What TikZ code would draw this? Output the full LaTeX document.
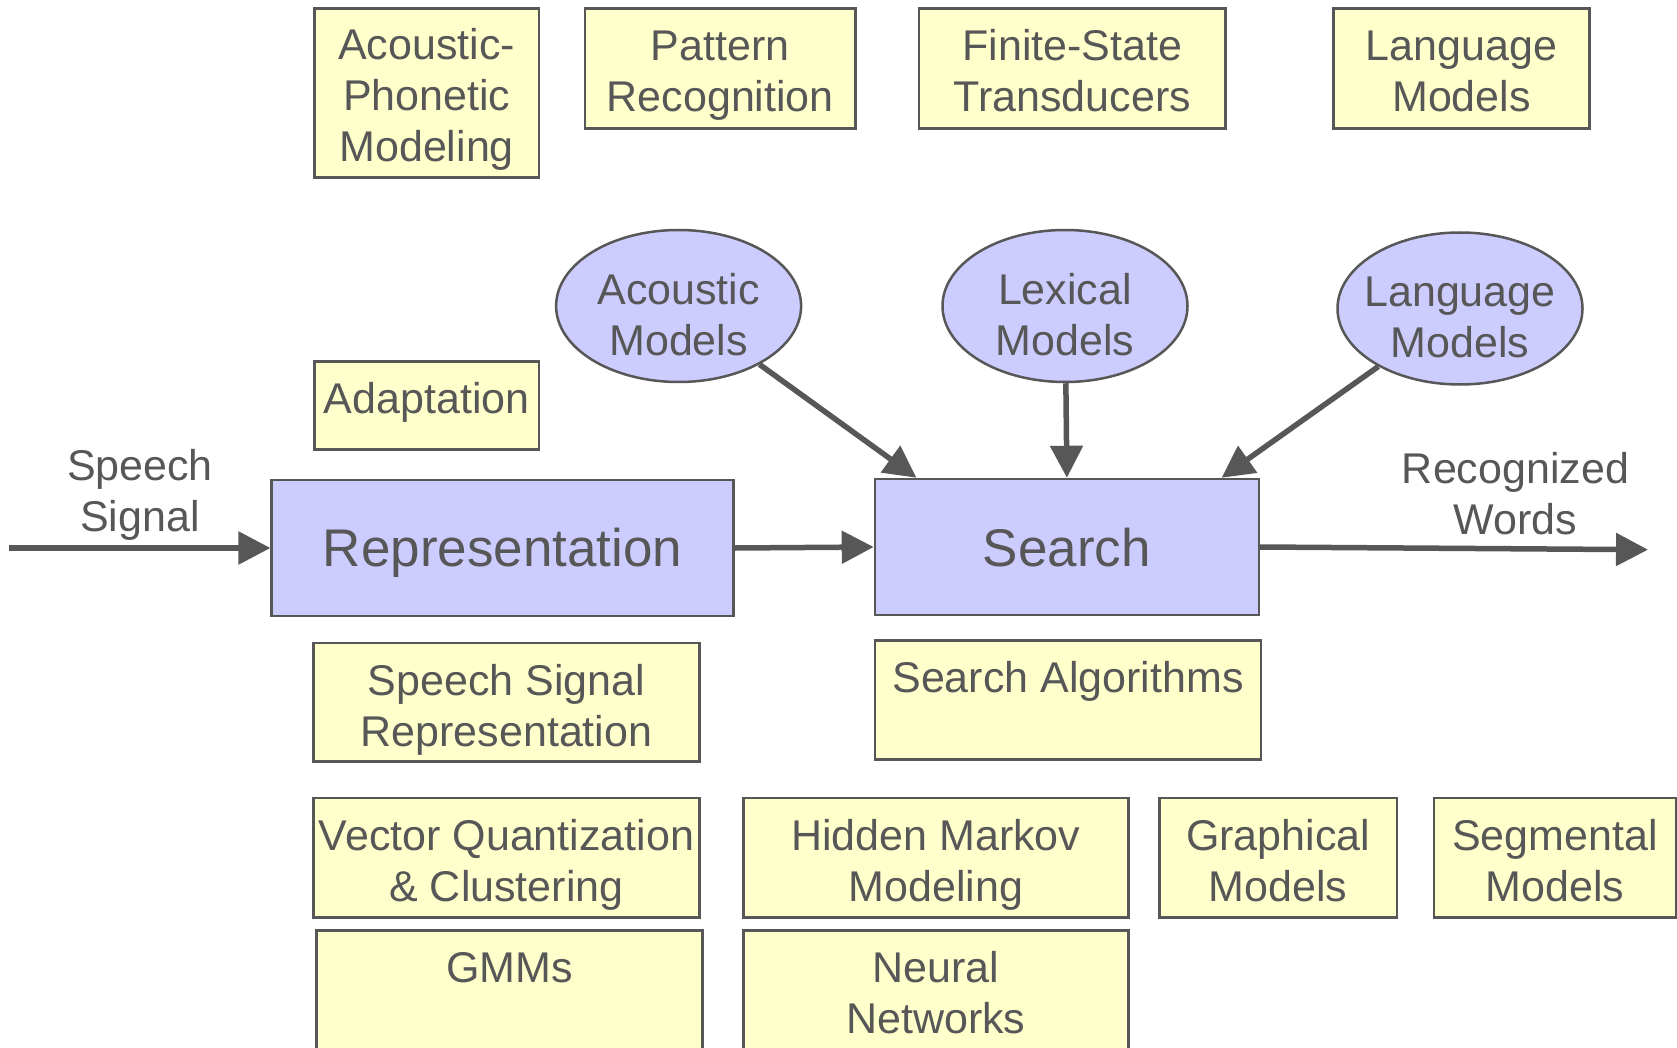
\documentclass[tikz,border=0pt]{standalone}
\usepackage{fontspec}
\setmainfont{Liberation Sans}
\usetikzlibrary{arrows.meta,shapes.geometric,calc}
\definecolor{ink}{HTML}{575757}
\definecolor{pale}{HTML}{FFFFCC}
\definecolor{lav}{HTML}{CCCCFF}

% centred stack of lines, lowered by #1 pt without changing its size
\newcommand\btext[2]{\raisebox{-#1pt}[\height][\depth]{\begin{tabular}{@{}c@{}}#2\end{tabular}}}

\begin{document}
\begin{tikzpicture}[x=1pt,y=-1pt,
  topic/.style={draw=ink, line width=2.5pt, fill=pale, text=ink,
    inner sep=0pt, font=\fontsize{43}{51}\selectfont},
  stage/.style={draw=ink, line width=2.5pt, fill=lav, text=ink, inner sep=0pt,
    font=\fontsize{53}{60}\selectfont},
  model/.style={ellipse, draw=ink, line width=2.5pt, fill=lav, text=ink,
    inner sep=-16pt, minimum width=245pt, minimum height=152pt,
    font=\fontsize{43}{51}\selectfont},
  flow/.style={draw=ink, line width=5.5pt, -{Triangle[length=32pt,width=32pt]}},
  lbl/.style={text=ink, inner sep=0pt, font=\fontsize{43}{51}\selectfont}]

\useasboundingbox (0,0) rectangle (1677,1048);

% top row of topics
\node[topic, minimum width=224.6pt, minimum height=169pt] (apm) at (426.7,93) {\btext{7.8}{Acoustic-\\Phonetic\\Modeling}};
\node[topic, minimum width=270.6pt, minimum height=119.7pt] (pr) at (720.3,68.5) {\btext{7.2}{Pattern\\Recognition}};
\node[topic, minimum width=306.9pt, minimum height=119.7pt] (fst) at (1072.2,68.5) {\btext{7.2}{Finite-State\\Transducers}};
\node[topic, minimum width=255.6pt, minimum height=119.7pt] (lmt) at (1461.5,68.5) {\btext{7.2}{Language\\Models}};

% knowledge sources
\node[model] (am) at (678.6,306) {\btext{13.8}{Acoustic\\Models}};
\node[model] (lm) at (1065,306) {\btext{13.8}{Lexical\\Models}};
\node[model] (lgm) at (1460,308.5) {\btext{13.4}{Language\\Models}};

\node[topic, minimum width=224.6pt, minimum height=87.7pt] (adapt) at (426.7,405.4) {\btext{-2}{Adaptation}};

% main processing stages
\node[stage, minimum width=462pt, minimum height=136pt] (rep) at (502.7,548) {\btext{6}{Representation}};
\node[stage, minimum width=383.9pt, minimum height=136pt] (search) at (1066.9,547) {\btext{7.5}{Search}};

% input and output labels
\node[lbl] (sig) at (140,490) {\btext{6}{Speech\\Signal}};
\node[lbl] (words) at (1515.5,494) {\btext{4.8}{Recognized\\Words}};

% lower topics
\node[topic, minimum width=386.1pt, minimum height=118.7pt] (ssr) at (506.5,702.2) {\btext{8.3}{Speech Signal\\Representation}};
\node[topic, minimum width=386.1pt, minimum height=118.7pt] (sa) at (1068,700) {\btext{7.8}{Search Algorithms\\~}};
\node[topic, minimum width=386.1pt, minimum height=119.8pt] (vq) at (506.5,857.7) {\btext{7.6}{Vector Quantization\\\& Clustering}};
\node[topic, minimum width=385pt, minimum height=119.8pt] (hmm) at (935.8,857.7) {\btext{7.6}{Hidden Markov\\Modeling}};
\node[topic, minimum width=237.5pt, minimum height=119.8pt] (gm) at (1278,857.7) {\btext{7.6}{Graphical\\Models}};
\node[topic, minimum width=241.7pt, minimum height=119.8pt] (sm) at (1555,857.7) {\btext{7.6}{Segmental\\Models}};
\node[topic, minimum width=386.1pt, minimum height=129.5pt] (gmm) at (509.6,995.2) {\btext{2.6}{GMMs\\~}};
\node[topic, minimum width=385pt, minimum height=129.5pt] (nn) at (935.8,995.2) {\btext{2.6}{Neural\\Networks}};

% signal flow
\coordinate (in) at (8.6,548);
\coordinate (out) at (1648,549.7);
\draw[flow] (in) -- (rep.west);
\draw[flow] (rep.east) -- (search.west);
\draw[flow] (search.east) -- (out);
\draw[flow] (am) -- ($(search.north west)+(42.7,0)$);
\draw[flow] (lm) -- (search.north);
\draw[flow] (lgm) -- ($(search.north east)+(-38.5,0)$);
\end{tikzpicture}
\end{document}
